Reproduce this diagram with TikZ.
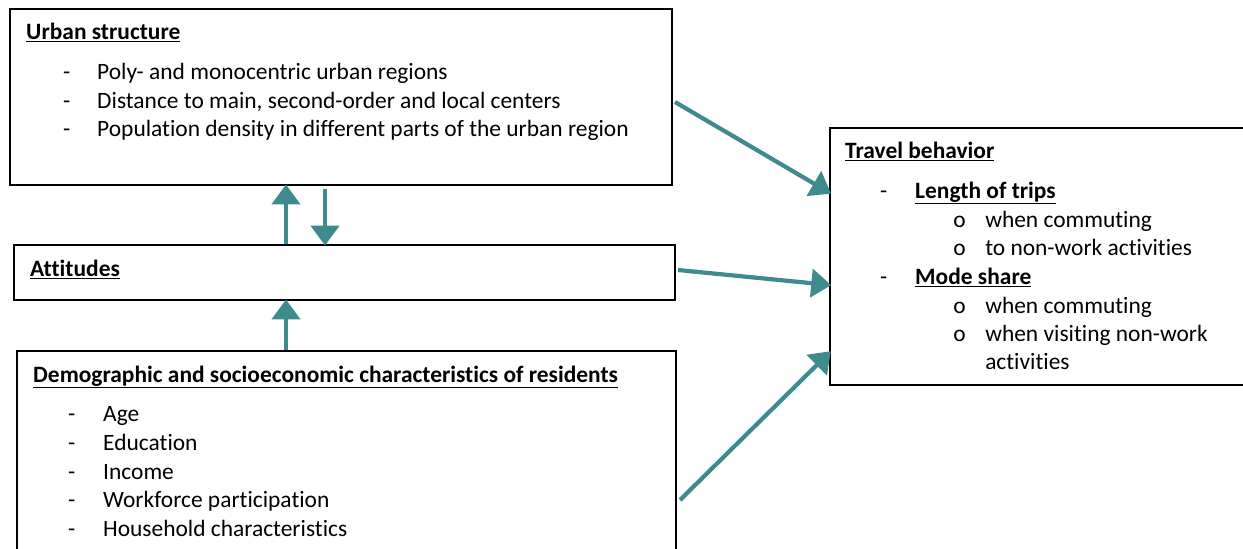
\documentclass[tikz,border=0pt]{standalone}
\usepackage{fontspec}
\setmainfont[Ligatures=NoCommon]{Carlito}
\usetikzlibrary{arrows.meta}

\definecolor{tealarrow}{HTML}{3F8A8F}

\tikzset{
  box/.style={draw=black, line width=1.2pt, rectangle, inner sep=0pt},
  txt/.style={anchor=base west, inner sep=0pt, font=\fontsize{20}{24}\selectfont},
  link/.style={draw=tealarrow, line width=3.6pt,
    -{Triangle[length=17pt, width=24pt]}, shorten >=-1pt}
}

\begin{document}
\begin{tikzpicture}[x=0.03cm,y=-0.03cm]
  \useasboundingbox (0,0) rectangle (1243,548);
  \clip (0,0) rectangle (1243,548);
  % boxes
  \node[box, minimum width=19.86cm, minimum height=5.28cm] (urban) at (341,97) {};
  \node[box, minimum width=19.83cm, minimum height=1.65cm] (att) at (344.5,272.5) {};
  \node[box, minimum width=19.77cm, minimum height=6.6cm] (demo) at (346.5,461) {};
  \node[box, minimum width=12.6cm, minimum height=7.71cm] (travel) at (1040,256.5) {};
  % urban structure
  \node[txt] (uhead) at (26,39) {\underline{\textbf{Urban structure}}};
  \node[txt] (ud1) at (63,79) {-};
  \node[txt] (u1) at (97,79) {Poly- and monocentric urban regions};
  \node[txt] (ud2) at (63,108) {-};
  \node[txt] (u2) at (97,108) {Distance to main, second-order and local centers};
  \node[txt] (ud3) at (63,136) {-};
  \node[txt] (u3) at (97,136) {Population density in different parts of the urban region};
  % attitudes
  \node[txt] (ahead) at (30,276) {\underline{\textbf{Attitudes}}};
  % demographic
  \node[txt] (dhead) at (33,382) {\underline{\textbf{Demographic and socioeconomic characteristics of residents}}};
  \node[txt] (dd1) at (68,421) {-};
  \node[txt] (d1) at (103,421) {Age};
  \node[txt] (dd2) at (68,450) {-};
  \node[txt] (d2) at (103,450) {Education};
  \node[txt] (dd3) at (68,479) {-};
  \node[txt] (d3) at (103,479) {Income};
  \node[txt] (dd4) at (68,507) {-};
  \node[txt] (d4) at (103,507) {Workforce participation};
  \node[txt] (dd5) at (68,536) {-};
  \node[txt] (d5) at (103,536) {Household characteristics};
  % travel behavior
  \node[txt] (thead) at (845,158) {\underline{\textbf{Travel behavior}}};
  \node[txt] (td1) at (880,198) {-};
  \node[txt] (t1) at (915,198) {\underline{\textbf{Length of trips}}};
  \node[txt] (to1) at (953,227) {o};
  \node[txt] (t11) at (985,227) {when commuting};
  \node[txt] (to2) at (953,255) {o};
  \node[txt] (t12) at (985,255) {to non-work activities};
  \node[txt] (td2) at (880,284) {-};
  \node[txt] (t2) at (915,284) {\underline{\textbf{Mode share}}};
  \node[txt] (to3) at (953,313) {o};
  \node[txt] (t21) at (985,313) {when commuting};
  \node[txt] (to4) at (953,341) {o};
  \node[txt] (t22) at (985,341) {when visiting non-work};
  \node[txt] (t23) at (985,369) {activities};
  % connectors
  \coordinate (uout) at (675,102);
  \coordinate (tin1) at (830,193);
  \coordinate (aout) at (678,270);
  \coordinate (tin2) at (830,285);
  \coordinate (dout) at (680,500);
  \coordinate (tin3) at (830,352);
  \draw[link] (uout) -- (tin1);
  \draw[link] (aout) -- (tin2);
  \draw[link] (dout) -- (tin3);
  \draw[link] (att.north -| 286,0) -- (urban.south -| 286,0);
  \draw[link] (urban.south -| 325,0) ++(0,3) -- (att.north -| 325,0);
  \draw[link] (demo.north -| 286,0) -- (att.south -| 286,0);
\end{tikzpicture}
\end{document}
